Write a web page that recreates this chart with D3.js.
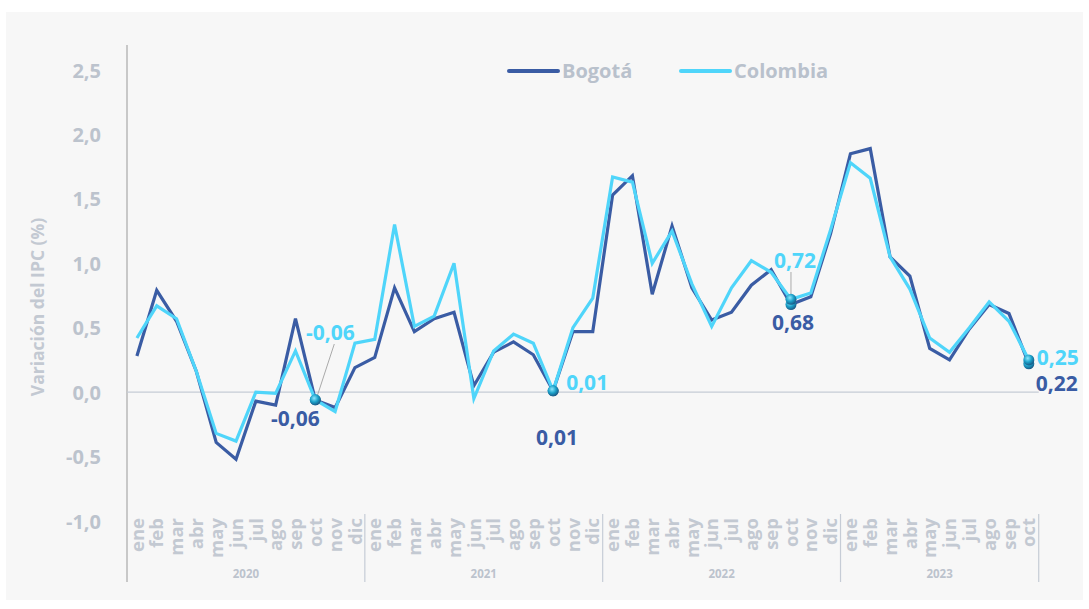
<!DOCTYPE html>
<html><head><meta charset="utf-8">
<script src="https://cdn.jsdelivr.net/npm/d3@7"></script>
<style>body{margin:0;background:#fff;font-family:"Open Sans",sans-serif}</style>
</head><body><svg id="c" width="1089" height="609"></svg>
<script>
const years = ["2020","2021","2022","2023"];
const monthNames = ["ene","feb","mar","abr","may","jun","jul","ago","sep","oct","nov","dic"];
const bogota = [0.28,0.79,0.55,0.16,-0.39,-0.52,-0.07,-0.10,0.57,-0.06,-0.12,0.19,
  0.27,0.81,0.47,0.57,0.62,0.05,0.31,0.39,0.29,0.01,0.47,0.47,
  1.53,1.68,0.76,1.29,0.81,0.56,0.62,0.83,0.95,0.68,0.74,1.23,
  1.85,1.89,1.05,0.90,0.34,0.25,0.49,0.68,0.61,0.22];
const colombia = [0.42,0.67,0.57,0.16,-0.32,-0.38,0.00,-0.01,0.32,-0.06,-0.15,0.38,
  0.41,1.30,0.51,0.59,1.00,-0.05,0.32,0.45,0.38,0.01,0.50,0.73,
  1.67,1.63,1.00,1.25,0.84,0.51,0.81,1.02,0.93,0.72,0.77,1.26,
  1.78,1.66,1.05,0.80,0.42,0.31,0.50,0.70,0.55,0.25];
const yTicks = [-1.0,-0.5,0.0,0.5,1.0,1.5,2.0,2.5];
const highlights = [9,21,33,45];

const FONT = "'Open Sans', sans-serif";
const cBog = "#3a5ca4", cCol = "#4fd5fa", cGray = "#bcc3cd";
const n = bogota.length;
const keys = d3.range(n).map(i => years[Math.floor(i/12)] + "-" + monthNames[i%12]);
const fmt = v => d3.format(".2f")(v).replace(".", ",").replace("−","-");

const svg = d3.select("#c");
svg.append("rect").attr("x",6).attr("y",12).attr("width",1077).attr("height",588).attr("fill","#f7f7f7");

const x = d3.scaleBand().domain(keys).range([127, 127 + n*19.82]).padding(0);
const y = d3.scaleLinear().domain([-1, 2.5]).range([521, 70]);
const cx = i => x(keys[i]) + x.bandwidth()/2;

// y axis
const ya = svg.append("g").attr("transform","translate(104,0)")
  .call(d3.axisLeft(y).tickValues(yTicks).tickSize(0).tickFormat(d => d3.format(".1f")(d).replace(".",",").replace("−","-")));
ya.select(".domain").remove();
ya.selectAll("text").attr("fill", cGray).attr("font-size", 20).attr("font-weight", 700)
  .attr("font-family",FONT).attr("dy","0.35em");

svg.append("text").attr("transform","translate(44,307) rotate(-90)").attr("text-anchor","middle")
  .attr("fill", "#c3c9d2").attr("font-size",17.5).attr("font-weight",700).attr("font-family",FONT)
  .text("Variación del IPC (%)");

// axis lines
svg.append("line").attr("x1",127).attr("x2",127).attr("y1",45).attr("y2",582).attr("stroke","#c8c8c8").attr("stroke-width",2);
svg.append("line").attr("x1",127).attr("x2",x.range()[1]).attr("y1",y(0)).attr("y2",y(0)).attr("stroke","#c6ccd6").attr("stroke-width",1.2);

// x axis month labels
const xa = svg.append("g").attr("transform","translate(0,518)")
  .call(d3.axisBottom(x).tickSize(0).tickFormat(d => d.split("-")[1]));
xa.select(".domain").remove();
xa.selectAll("text").attr("text-anchor","end")
  .attr("x",0).attr("y",0).attr("dy","0.36em").attr("dx",0)
  .attr("transform", "rotate(-90)")
  .attr("fill", "#c3c9d2").attr("font-size", 18.5).attr("font-weight", 700).attr("font-family",FONT);

// year separators & labels
years.forEach((yr, k) => {
  const i0 = k*12, i1 = Math.min(n, (k+1)*12);
  const x0 = x(keys[i0]), x1 = i1 >= n ? x.range()[1] : x(keys[i1]);
  if (k > 0) svg.append("line").attr("x1",x0).attr("x2",x0).attr("y1",514).attr("y2",582).attr("stroke","#c6ccd6").attr("stroke-width",1.2);
  svg.append("text").attr("x",(x0+x1)/2).attr("y",578).attr("text-anchor","middle")
    .attr("fill","#bcc3cd").attr("font-size",11.5).attr("font-weight",700).attr("font-family",FONT).text(yr);
});
svg.append("line").attr("x1",x.range()[1]).attr("x2",x.range()[1]).attr("y1",514).attr("y2",582).attr("stroke","#c6ccd6").attr("stroke-width",1.2);

// lines
const line = d3.line().x((d,i) => cx(i)).y(d => y(d));
svg.append("path").datum(bogota).attr("d", line).attr("fill","none").attr("stroke",cBog).attr("stroke-width",3.2).attr("stroke-linejoin","miter");
svg.append("path").datum(colombia).attr("d", line).attr("fill","none").attr("stroke",cCol).attr("stroke-width",3.2).attr("stroke-linejoin","miter");

// gradient for markers
const defs = svg.append("defs");
const g = defs.append("radialGradient").attr("id","ball").attr("cx","40%").attr("cy","35%").attr("r","65%");
g.append("stop").attr("offset","0%").attr("stop-color","#8ee8ff");
g.append("stop").attr("offset","55%").attr("stop-color","#1aa0c8");
g.append("stop").attr("offset","100%").attr("stop-color","#1b5a86");

const lbl = (t, xx, yy, col, anchor) => svg.append("text").attr("x",xx).attr("y",yy).attr("text-anchor",anchor||"middle")
  .attr("fill",col).attr("font-size",21).attr("font-weight",700).attr("font-family",FONT).text(t);

// oct 2020
{
  const i = highlights[0];
  svg.append("line").attr("x1",cx(i)+2).attr("y1",y(colombia[i])-4).attr("x2",cx(i)+19).attr("y2",344).attr("stroke","#aaa").attr("stroke-width",1);
  lbl(fmt(colombia[i]), cx(i)+15, 340, cCol);
  lbl(fmt(bogota[i]), cx(i)-20, 426, cBog);
}
// oct 2021
{
  const i = highlights[1];
  lbl(fmt(bogota[i]), cx(i)+4, 445, cBog);
  lbl(fmt(colombia[i]), cx(i)+13, 390, cCol, "start");
}
// oct 2022
{
  const i = highlights[2];
  svg.append("line").attr("x1",cx(i)).attr("y1",y(colombia[i])-2).attr("x2",cx(i)).attr("y2",272).attr("stroke","#aaa").attr("stroke-width",1);
  lbl(fmt(colombia[i]), cx(i)+4, 268, cCol);
  lbl(fmt(bogota[i]), cx(i)+2, 330, cBog);
}
// oct 2023
{
  const i = highlights[3];
  lbl(fmt(colombia[i]), cx(i)+8, 365, cCol, "start");
  lbl(fmt(bogota[i]), cx(i)+7, 391, cBog, "start");
}
// markers
highlights.forEach(i => {
  [bogota[i], colombia[i]].forEach(v => {
    svg.append("circle").attr("cx",cx(i)).attr("cy",y(v)).attr("r",5.5).attr("fill","url(#ball)");
  });
});

// legend
const leg = [["Bogotá", cBog, 509], ["Colombia", cCol, 681]];
leg.forEach(([t,c,lx]) => {
  svg.append("line").attr("x1",lx).attr("x2",lx+49).attr("y1",71).attr("y2",71).attr("stroke",c).attr("stroke-width",4).attr("stroke-linecap","round");
  svg.append("text").attr("x",lx+53).attr("y",78).attr("fill","#b9c1cc").attr("font-size",20).attr("font-weight",700)
    .attr("font-family",FONT).text(t);
});
</script></body></html>
